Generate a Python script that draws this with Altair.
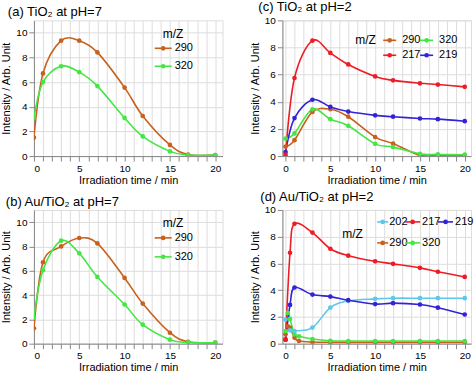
import altair as alt
import pandas as pd

FONT = "Liberation Sans"

# ---------------- data ----------------
T_STD = [0, 1, 3, 5, 7, 10, 12, 15, 17, 20]

A_290 = [1.5, 6.7, 9.35, 9.35, 8.4, 5.55, 3.25, 0.9, 0.12, 0.08]
A_320 = [3.1, 6.0, 7.28, 6.8, 5.67, 3.09, 1.59, 0.38, 0.08, 0.08]

B_290 = [1.26, 6.7, 8.0, 8.69, 8.25, 5.41, 3.3, 0.9, 0.16, 0.08]
B_320 = [2.13, 6.04, 8.47, 7.43, 5.49, 3.22, 1.56, 0.33, 0.1, 0.08]

C_217 = [0.1, 5.75, 8.5, 7.6, 6.75, 5.87, 5.58, 5.36, 5.27, 5.1]
C_219 = [0.3, 2.8, 4.15, 3.62, 3.28, 3.0, 2.9, 2.77, 2.72, 2.57]
C_290 = [0.7, 1.17, 3.25, 3.45, 2.9, 1.4, 0.92, 0.05, 0.05, 0.05]
C_320 = [1.28, 1.67, 3.45, 2.72, 2.23, 0.9, 0.66, 0.17, 0.12, 0.1]

D_T_FAST = [0, 0.25, 0.5, 1, 1.5, 3, 5, 7, 10, 12, 15, 17, 20]
D_290 = [0.7, 1.3, 1.2, 0.45, 0.2, 0.12, 0.1, 0.1, 0.1, 0.1, 0.1, 0.1, 0.1]
D_320 = [0.95, 2.3, 1.85, 0.7, 0.55, 0.35, 0.22, 0.2, 0.2, 0.2, 0.2, 0.2, 0.2]
D_T_MAIN = [0, 0.5, 1, 3, 5, 7, 10, 12, 15, 17, 20]
D_217 = [0.3, 6.8, 8.97, 8.31, 7.1, 6.58, 6.16, 5.97, 5.67, 5.38, 4.99]
D_219 = [0.3, 2.9, 4.2, 3.67, 3.52, 3.25, 2.96, 3.03, 2.93, 2.69, 2.18]
D_T_202 = [0, 0.5, 1, 3, 5, 7, 10, 12, 15, 17, 20]
D_202 = [1.8, 1.0, 0.95, 1.2, 2.7, 3.2, 3.35, 3.4, 3.4, 3.4, 3.4]

X_TICKS = list(range(0, 21))
Y_TICKS = [0, 2, 4, 6, 8, 10]

SERIES = ["202", "217", "219", "290", "320"]
COLORS = ["#5CC8EC", "#EE1C24", "#3322D6", "#C8601E", "#44E644"]
CMAP = dict(zip(SERIES, COLORS))

W, H_TOP, H_BOT = 189, 136, 134


def make_df(parts):
    frames = []
    for name, t, v in parts:
        frames.append(pd.DataFrame({"t": t, "v": v, "s": name}))
    return pd.concat(frames, ignore_index=True)


def legend_layers(items, mz):
    one = pd.DataFrame({"k": [0]})
    layers = []
    mx, my = mz
    layers.append(
        alt.Chart(one).mark_text(align="left", baseline="middle", font=FONT, fontSize=12, color="black")
        .encode(x=alt.value(mx), y=alt.value(my), text=alt.value("m/Z"))
    )
    for name, x1, x2, y, tx in items:
        c = CMAP[name]
        layers.append(
            alt.Chart(one).mark_rule(color=c, strokeWidth=1.6)
            .encode(x=alt.value(x1), x2=alt.value(x2), y=alt.value(y))
        )
        layers.append(
            alt.Chart(one).mark_point(filled=True, shape="circle", size=22, color=c, opacity=1)
            .encode(x=alt.value((x1 + x2) / 2), y=alt.value(y))
        )
        layers.append(
            alt.Chart(one).mark_text(align="left", baseline="middle", font=FONT, fontSize=11, color="black")
            .encode(x=alt.value(tx), y=alt.value(y), text=alt.value(name))
        )
    return layers


def panel(title, dx, parts, xdom, ydom, height, items, mz):
    df = make_df(parts)
    x = alt.X(
        "t:Q",
        scale=alt.Scale(domain=xdom, nice=False, zero=False),
        axis=alt.Axis(values=X_TICKS, labelExpr="datum.value % 5 == 0 ? datum.label : ''",
                      title="Irradiation time / min", titleFontWeight="normal",
                      titleY=18, titleBaseline="top"),
    )
    y = alt.Y(
        "v:Q",
        scale=alt.Scale(domain=ydom, nice=False),
        axis=alt.Axis(values=Y_TICKS, title="Intensity / Arb. Unit", titleFontWeight="normal"),
    )
    color = alt.Color(
        "s:N",
        scale=alt.Scale(domain=SERIES, range=COLORS),
        legend=None,
    )
    base = alt.Chart(df)
    lines = base.mark_line(interpolate="cardinal", strokeWidth=1.6, clip=True).encode(x=x, y=y, color=color)
    pts = base.mark_point(filled=True, shape="circle", size=22, opacity=1, clip=True).encode(x=x, y=y, color=color)
    return alt.layer(lines, pts, *legend_layers(items, mz)).properties(
        width=W,
        height=height,
        title=alt.TitleParams(text=title, anchor="start", dx=dx, offset=1, fontSize=13,
                              font=FONT, fontWeight="normal", color="black"),
    )


pa = panel(
    "(a) TiO\u2082 at pH=7", 7,
    [("290", T_STD, A_290), ("320", T_STD, A_320)],
    [0, 20.8], [0, 11], H_TOP,
    [("290", 121, 138, 28, 141), ("320", 121, 138, 46, 141)],
    (129, 14),
)
pb = panel(
    "(b) Au/TiO\u2082 at pH=7", 5,
    [("290", T_STD, B_290), ("320", T_STD, B_320)],
    [0, 20.8], [0, 11], H_BOT,
    [("290", 121, 138, 28, 141), ("320", 121, 138, 47, 141)],
    (129, 13),
)
pc = panel(
    "(c) TiO\u2082 at pH=2", 9,
    [("290", T_STD, C_290), ("320", T_STD, C_320), ("219", T_STD, C_219), ("217", T_STD, C_217)],
    [-0.35, 20.7], [0, 10], H_TOP,
    [("290", 101, 114, 20, 120), ("320", 138, 151, 20, 157),
     ("217", 101, 114, 35, 120), ("219", 138, 151, 35, 157)],
    (73, 20),
)
pd_ = panel(
    "(d) Au/TiO\u2082 at pH=2", 11,
    [("290", D_T_FAST, D_290), ("320", D_T_FAST, D_320), ("202", D_T_202, D_202),
     ("219", D_T_MAIN, D_219), ("217", D_T_MAIN, D_217)],
    [-0.35, 20.7], [0, 10], H_BOT,
    [("202", 95, 106, 12, 107), ("217", 123, 138, 12, 140), ("219", 156, 171, 12, 173),
     ("290", 95, 106, 33, 107), ("320", 123, 138, 33, 140)],
    (60, 24),
)

chart = alt.vconcat(
    alt.hconcat(pa, pc, spacing=25),
    alt.hconcat(pb, pd_, spacing=25),
    spacing=4,
).properties(
    padding=0,
).configure_view(
    stroke="black", strokeWidth=1.3
).configure_axis(
    domainColor="black", tickColor="black", labelColor="black", titleColor="black",
    labelFont=FONT, titleFont=FONT, labelFontSize=11, titleFontSize=12.5,
    titleFontWeight="normal", grid=False, tickSize=3, labelPadding=1, titlePadding=1,
    domainWidth=1.3, tickWidth=1,
).configure(background="white", padding=0)

chart.save("out.html", embed_options={"renderer": "svg", "actions": False})
